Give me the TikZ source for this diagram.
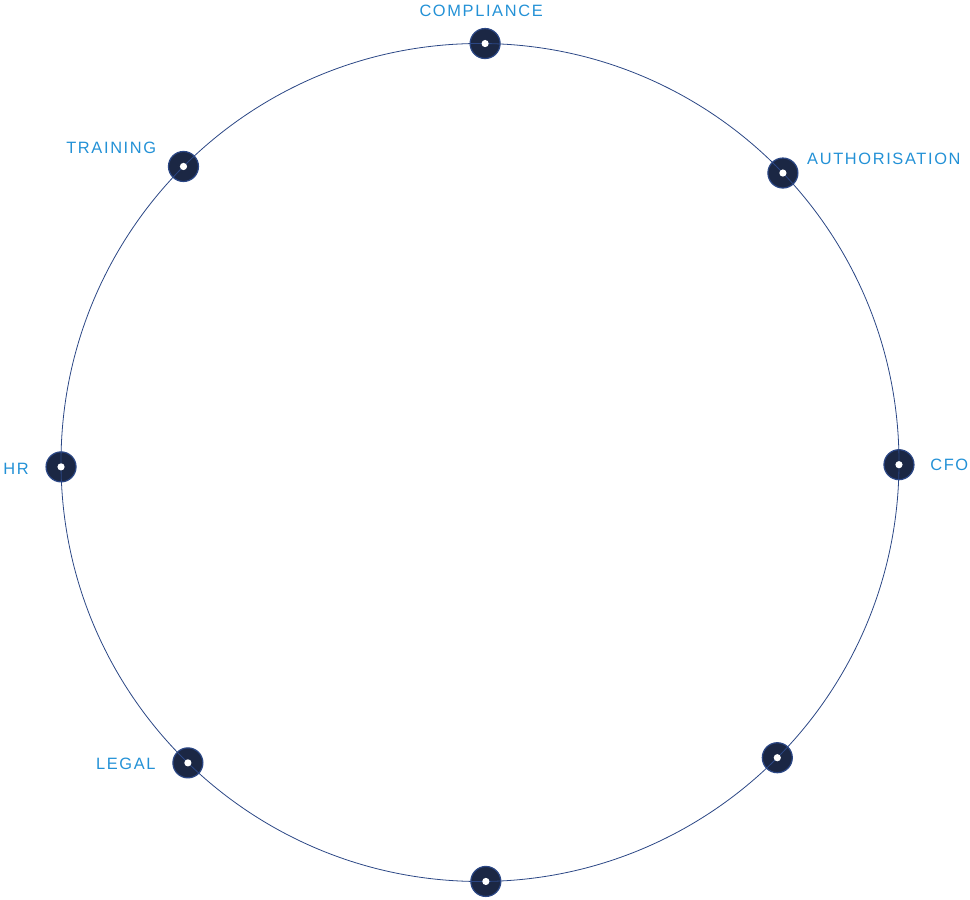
\documentclass[tikz,border=0pt]{standalone}
\usepackage{fontspec}
\setmainfont{Liberation Sans}[LetterSpace=10]
\usetikzlibrary{positioning}

\definecolor{ringblue}{HTML}{2B4785}
\definecolor{hubfill}{HTML}{1B2744}
\definecolor{tagblue}{HTML}{2391D6}

\begin{document}
\begin{tikzpicture}[x=1pt,y=1pt,
    hub/.style={circle,fill=hubfill,draw=ringblue,line width=1.2pt,minimum size=30pt,inner sep=0pt},
    ring/.style={draw=ringblue,line width=0.8pt},
    tag/.style={text=tagblue,inner sep=0pt,font=\fontsize{16.4}{18}\selectfont}]
      \useasboundingbox (0,0) rectangle (970,900);
      \coordinate (Centre) at (480,437.5);

      \node[hub] (Compliance)    at ([shift={(89.3:419)}]Centre)   {};
      \node[hub] (Authorisation) at ([shift={(43.7:419)}]Centre)   {};
      \node[hub] (Cfo)           at ([shift={(-0.3:419)}]Centre)   {};
      \node[hub] (LowerRight)    at ([shift={(-44.8:419)}]Centre)  {};
      \node[hub] (Bottom)        at ([shift={(-89.2:419)}]Centre)  {};
      \node[hub] (Legal)         at ([shift={(-134.2:419)}]Centre) {};
      \node[hub] (Hr)            at ([shift={(180.6:419)}]Centre)  {};
      \node[hub] (Training)      at ([shift={(135.05:419)}]Centre) {};

      % the ring runs over the hubs, the white cores sit on top
      \draw[ring] (Centre) circle[radius=419];
      \foreach \hubname in {Compliance,Authorisation,Cfo,LowerRight,Bottom,Legal,Hr,Training}
        \fill[white] (\hubname) circle[radius=3.6];

      \node[tag,above=11.5pt of Compliance,xshift=-4pt]     (ComplianceTag)    {COMPLIANCE};
      \node[tag,right=8.5pt of Authorisation,yshift=14pt]   (AuthorisationTag) {AUTHORISATION};
      \node[tag,right=15.5pt of Cfo]                        (CfoTag)           {CFO};
      \node[tag,left=16.5pt of Legal,yshift=-1pt]           (LegalTag)         {LEGAL};
      \node[tag,left=16.5pt of Hr,yshift=-2pt]              (HrTag)            {HR};
      \node[tag,left=11.5pt of Training,yshift=19pt]        (TrainingTag)      {TRAINING};
\end{tikzpicture}
\end{document}
